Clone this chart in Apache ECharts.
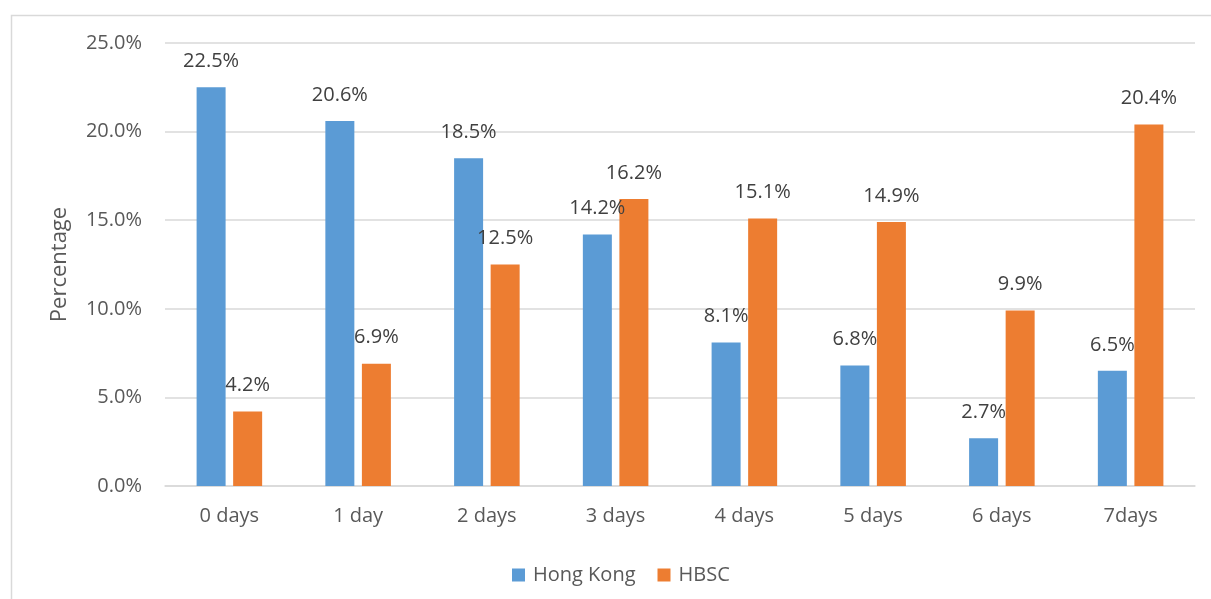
<!DOCTYPE html>
<html>
<head>
<meta charset="utf-8">
<style>
  html, body { margin: 0; padding: 0; background: #ffffff; }
  #chart { width: 1211px; height: 599px; }
</style>
<script src="https://cdn.jsdelivr.net/npm/echarts@6/dist/echarts.min.js"></script>
</head>
<body>
<div id="chart"></div>
<script>
// Days per week category
const categories = ['0 days', '1 day', '2 days', '3 days', '4 days', '5 days', '6 days', '7days'];
// Share of respondents (%) in each group
const hongKong = [22.5, 20.6, 18.5, 14.2, 8.1, 6.8, 2.7, 6.5];
const hbsc = [4.2, 6.9, 12.5, 16.2, 15.1, 14.9, 9.9, 20.4];
const seriesNames = ['Hong Kong', 'HBSC'];

const FONT = '"Open Sans", "Liberation Sans", sans-serif';

const chart = echarts.init(document.getElementById('chart'), null, { renderer: 'canvas' });

const labelStyle = {
  show: true,
  position: 'top',
  distance: 16,
  fontFamily: FONT,
  fontSize: 20,
  color: '#404040',
  formatter: p => p.value.toFixed(1) + '%'
};

chart.setOption({
  animation: false,
  backgroundColor: '#ffffff',
  graphic: [{
    type: 'rect',
    left: 9,
    top: 13,
    shape: { width: 1400, height: 800 },
    style: { fill: 'none', stroke: '#d9d9d9', lineWidth: 1.5 },
    silent: true
  }],
  grid: { left: 165, right: 16, top: 43, bottom: 113, containLabel: false },
  legend: {
    left: 507,
    top: 560,
    itemWidth: 13,
    itemHeight: 13,
    itemGap: 22,
    icon: 'rect',
    textStyle: { fontFamily: FONT, fontSize: 20, color: '#595959', padding: [0, 0, 0, 3] },
    data: seriesNames
  },
  xAxis: {
    type: 'category',
    data: categories,
    axisLine: { show: true, lineStyle: { color: '#d9d9d9', width: 1.5 } },
    axisTick: { show: false },
    axisLabel: { fontFamily: FONT, fontSize: 20, color: '#595959', margin: 20 }
  },
  yAxis: {
    type: 'value',
    min: 0,
    max: 25,
    interval: 5,
    name: 'Percentage',
    nameLocation: 'middle',
    nameGap: 94,
    nameRotate: 90,
    nameTextStyle: { fontFamily: FONT, fontSize: 22, color: '#595959' },
    axisLine: { show: false },
    axisTick: { show: false },
    splitLine: { lineStyle: { color: '#d9d9d9', width: 1.5 } },
    axisLabel: {
      fontFamily: FONT, fontSize: 20, color: '#595959', margin: 23,
      formatter: v => v.toFixed(1) + '%'
    }
  },
  series: [
    {
      name: seriesNames[0],
      type: 'bar',
      data: hongKong,
      barWidth: 29,
      barGap: '26%',
      itemStyle: { color: '#5b9bd5' },
      label: labelStyle
    },
    {
      name: seriesNames[1],
      type: 'bar',
      data: hbsc,
      barWidth: 29,
      barGap: '26%',
      itemStyle: { color: '#ed7d31' },
      label: labelStyle
    }
  ]
});
</script>
</body>
</html>
